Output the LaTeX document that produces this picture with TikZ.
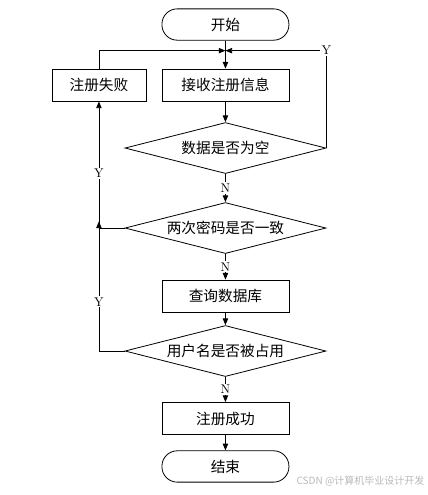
\documentclass[tikz,border=0pt]{standalone}
\usepackage{fontspec}
\newfontfamily\cjk{Noto Sans CJK SC}
\usetikzlibrary{shapes.geometric, positioning, arrows.meta}

\begin{document}
\begin{tikzpicture}
	[on grid, line width=0.6pt, >={Triangle[length=5pt,width=4pt]},
	 every node/.style={font=\cjk\fontsize{11}{13}\selectfont},
	 terminal/.style={draw, rounded corners=11.5pt, minimum width=95.25pt, minimum height=23.5pt},
	 process/.style={draw, minimum width=95.25pt, minimum height=24pt},
	 decision/.style={draw, diamond, aspect=4, inner sep=0pt, minimum width=150.75pt, minimum height=38.25pt},
	 yn/.style={font=\fontsize{9.5}{11}\selectfont, fill=white, inner sep=1pt}]
   \useasboundingbox (-169.1pt,18.4pt) rectangle (151.9pt,-352.9pt);
   \node[terminal] (start) {开始};
   \coordinate[below=19.6pt of start] (merge);
   \node[process] (recv) [below=45.4pt of start] {接收注册信息};
   \node[process, minimum width=70.5pt] (fail) [left=94.9pt of recv] {注册失败};
   \node[decision] (empty) [below=47.25pt of recv] {数据是否为空};
   \node[decision] (pwd) [below=60pt of empty] {两次密码是否一致};
   \node[process] (query) [below=51pt of pwd] {查询数据库};
   \node[decision] (taken) [below=41.25pt of query] {用户名是否被占用};
   \node[process] (ok) [below=50.6pt of taken] {注册成功};
   \node[terminal] (end) [below=36pt of ok] {结束};
   \coordinate (joint) at (fail |- pwd.west);
   \coordinate[above=5pt of joint] (jtip);
    \draw (start) -- (merge);
    \path[->] 
    (merge) edge (recv)
    (recv) edge (empty)
    (empty) edge node[yn] {N} (pwd)
    (pwd) edge node[yn] {N} (query)
    (query) edge (taken)
    (taken) edge node[yn] {N} (ok)
    (ok) edge (end);
    % failure and retry loops
    \draw[->] (fail) |- (merge);
    \draw[->] (empty.east) |- node[yn] {Y} (merge);
    \draw[->] (taken.west) -| node[yn, pos=0.69] {Y} (jtip);
    \draw[->] (pwd.west) -- (joint) -- node[yn, pos=0.43] {Y} (fail);
   \node[font=\cjk\fontsize{7.5}{9}\selectfont, text=gray!55, anchor=east, inner sep=0pt] (mark) at (149.6pt,-342.4pt) {CSDN @计算机毕业设计开发};
\end{tikzpicture}
\end{document}
